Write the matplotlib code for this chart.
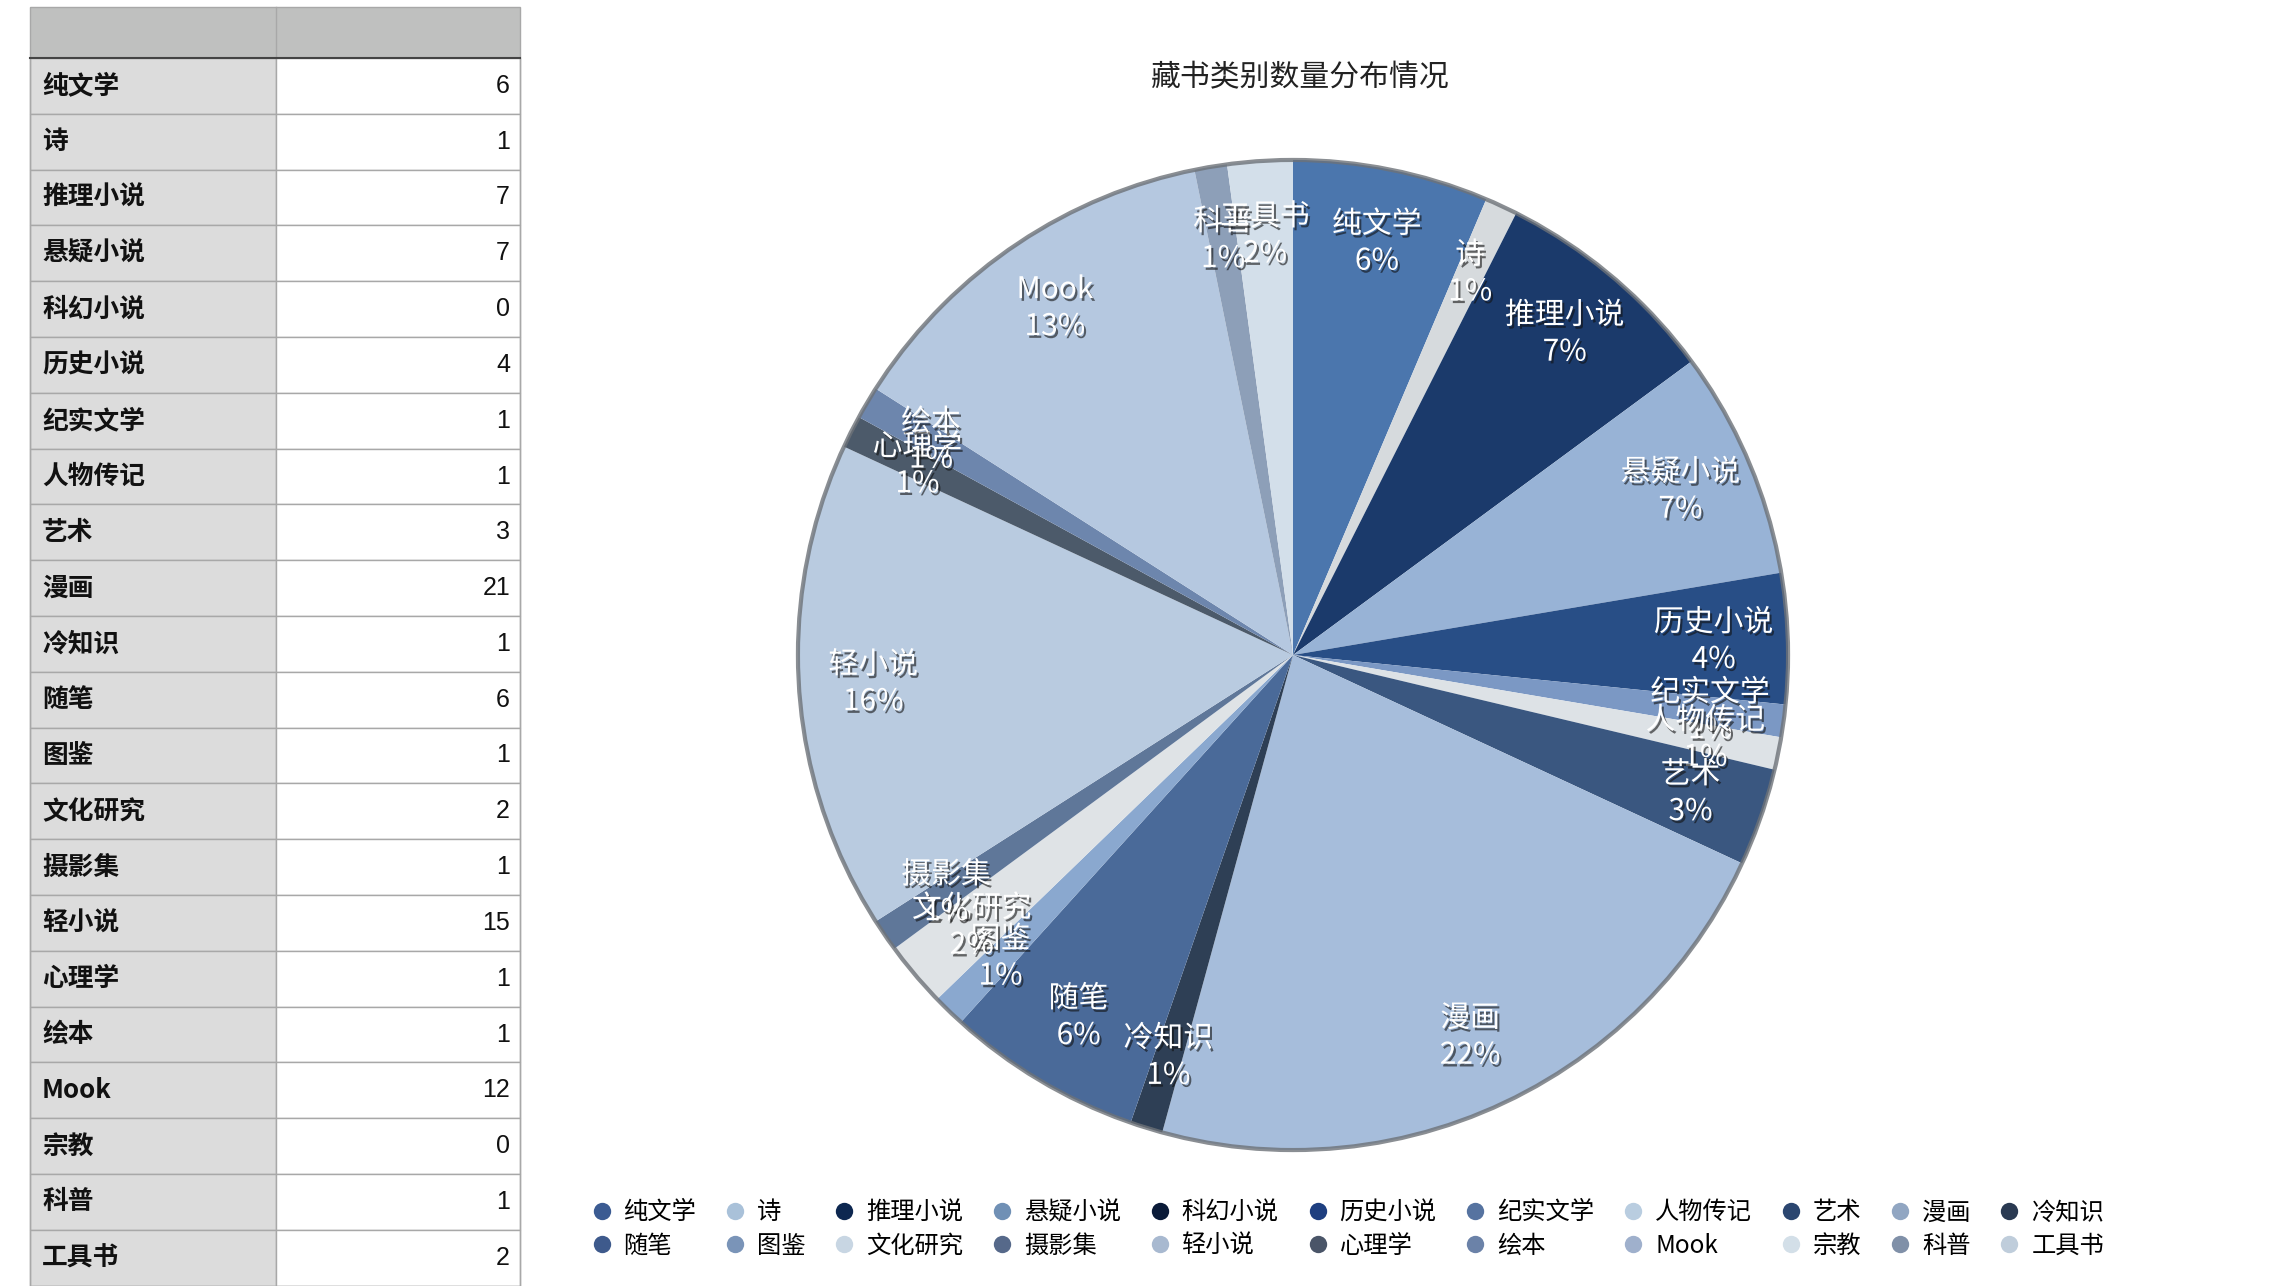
import matplotlib
matplotlib.use("Agg")
import matplotlib.pyplot as plt
import matplotlib.patheffects as pe
from matplotlib.lines import Line2D
from matplotlib.patches import Rectangle, Circle
import numpy as np

plt.rcParams['font.family'] = ['Noto Sans CJK SC', 'DejaVu Sans']

# 藏书类别与数量
categories = ['纯文学', '诗', '推理小说', '悬疑小说', '科幻小说', '历史小说', '纪实文学',
              '人物传记', '艺术', '漫画', '冷知识', '随笔', '图鉴', '文化研究', '摄影集',
              '轻小说', '心理学', '绘本', 'Mook', '宗教', '科普', '工具书']
counts = [6, 1, 7, 7, 0, 4, 1, 1, 3, 21, 1, 6, 1, 2, 1, 15, 1, 1, 12, 0, 1, 2]

# 扇区颜色（带纹理的较浅色）
slice_colors = ['#4b76ad', '#d6dadd', '#1b3a6b', '#98b3d6', '#0c1c3a', '#284e86',
                '#7b98c4', '#dde2e6', '#3a5780', '#a6bddb', '#2e3f55', '#4a6a99',
                '#8aa8cf', '#dfe3e6', '#5f7799', '#b9cbe0', '#4c5a6a', '#6d86ad',
                '#b5c8e0', '#d3dfe8', '#8d9fb8', '#d3dfea']
# 图例圆点颜色
legend_colors = ['#3b5b92', '#a9c1d9', '#0d2750', '#7090b5', '#0a1a38', '#1e3f80',
                 '#5673a0', '#b9cde0', '#2b4670', '#91a6c2', '#2a3a52', '#3e5a8c',
                 '#7a94b8', '#c8d6e3', '#56698a', '#a8b9d0', '#4a5568', '#6b82a8',
                 '#9fb0cc', '#d3dfe8', '#8090a8', '#bfcddb']

W, H = 2294, 1286
fig = plt.figure(figsize=(W / 100, H / 100), dpi=100)
fig.patch.set_facecolor('white')

# ---- 左侧表格 ----
tab = fig.add_axes([0, 0, 1, 1])
tab.set_xlim(0, W)
tab.set_ylim(H, 0)
tab.axis('off')

x0, x1, x2 = 30, 276, 520
head_top, head_h, row_h = 7, 51, 55.8
tab.add_patch(Rectangle((x0, head_top), x2 - x0, head_h, facecolor='#bfc0bf',
                        edgecolor='none'))
tab.plot([x1, x1], [head_top, head_top + head_h], color='#a8a8a8', lw=1)
for i, (name, n) in enumerate(zip(categories, counts)):
    y = head_top + head_h + i * row_h
    tab.add_patch(Rectangle((x0, y), x1 - x0, row_h, facecolor='#dcdcdc',
                            edgecolor='#a8a8a8', lw=1))
    tab.add_patch(Rectangle((x1, y), x2 - x1, row_h, facecolor='white',
                            edgecolor='#a8a8a8', lw=1))
    tab.text(x0 + 12, y + row_h / 2, name, fontsize=18.5, fontweight='bold',
             va='center', ha='left', color='#111111')
    tab.text(x2 - 10, y + row_h / 2, str(n), fontsize=18, va='center', ha='right',
             color='#111111', family=['Liberation Sans', 'DejaVu Sans'])
tab.plot([x0, x2], [head_top + head_h, head_top + head_h], color='#444444', lw=1.5)
tab.add_patch(Rectangle((x0, head_top), x2 - x0, head_h + row_h * len(categories),
                        facecolor='none', edgecolor='#a8a8a8', lw=1))

# ---- 饼图 ----
cx, cy, r = 1293, 655, 500
ax = fig.add_axes([(cx - r) / W, 1 - (cy + r) / H, 2 * r / W, 2 * r / H])
wedges, _ = ax.pie(counts, colors=slice_colors, startangle=90, counterclock=False,
                   radius=1.0, wedgeprops=dict(linewidth=0))
ax.add_patch(Circle((0, 0), 1.0, facecolor='none', edgecolor='#6d7278', lw=3,
                    alpha=0.8))
ax.set_xlim(-1.01, 1.01)
ax.set_ylim(-1.01, 1.01)
ax.set_aspect('equal')
ax.axis('off')

total = sum(counts)
for w, name, n in zip(wedges, categories, counts):
    if n == 0:
        continue
    ang = np.deg2rad((w.theta1 + w.theta2) / 2)
    d = 0.85
    ax.text(d * np.cos(ang), d * np.sin(ang), f"{name}\n{round(100 * n / total)}%",
            ha='center', va='center', fontsize=21.5, color='white', linespacing=1.25,
            path_effects=[pe.SimplePatchShadow(offset=(1.5, -2), shadow_rgbFace='#111111',
                                               alpha=0.6),
                          pe.Normal()], clip_on=False)

fig.text(1300 / W, 1 - 78 / H, '藏书类别数量分布情况', ha='center', va='center',
         fontsize=21.5, color='#222222')

# 图例按行排列：第一行前 11 项，第二行后 11 项
order = []
for i in range(11):
    order += [i, i + 11]
handles = [Line2D([], [], marker='o', linestyle='none', markersize=12.5,
                  markerfacecolor=legend_colors[i], markeredgecolor='none') for i in order]
labels = [categories[i] for i in order]
fig.legend(handles, labels, ncol=11, loc='center', frameon=False,
           bbox_to_anchor=(1348 / W, 1 - 1229 / H), fontsize=17.5,
           handletextpad=0.5, columnspacing=1.2, labelspacing=0.3,
           handlelength=0.8)

fig.savefig('out.png', dpi=100)
